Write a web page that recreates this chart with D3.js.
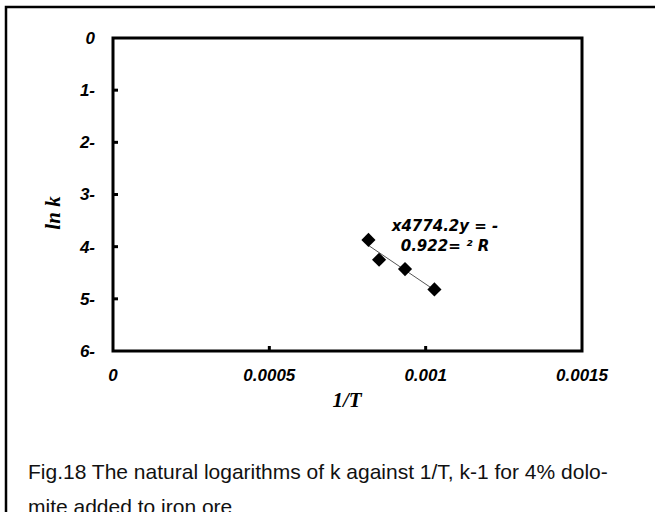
<!DOCTYPE html>
<html>
<head>
<meta charset="utf-8">
<script src="https://cdn.jsdelivr.net/npm/d3@7"></script>
<style>
  body { margin: 0; background: #fff; }
  svg { display: block; }
</style>
</head>
<body>
<svg id="chart" width="657" height="512"></svg>
<script>
// data
var invT = [0.000817, 0.000851, 0.000934, 0.001028];
var lnK = [-3.87, -4.25, -4.43, -4.82];
var xTicks = [0, 0.0005, 0.001, 0.0015];
var xTickLabels = ["0", "0.0005", "0.001", "0.0015"];
var yTicks = [0, -1, -2, -3, -4, -5, -6];
var yTickLabels = ["0", "1-", "2-", "3-", "4-", "5-", "6-"];
var equationLines = ["x4774.2y = -", "0.922= \u00B2 R"];
var captionLines = [
  "Fig.18 The natural logarithms of k against 1/T, k-1 for 4% dolo-",
  "mite added to iron ore"
];

var svg = d3.select("#chart"),
  plotL = 113, plotR = 582, plotT = 38, plotB = 351;

var x = d3.scaleLinear().domain([0, 0.0015]).range([plotL, plotR]);
var y = d3.scaleLinear().domain([0, -6]).range([plotT, plotB]);

// outer frame (top and left edges only)
svg.append("path")
  .attr("d", "M6,512V7H655")
  .attr("fill", "none")
  .attr("stroke", "#000")
  .attr("stroke-width", 2.5);

// plot box
svg.append("rect")
  .attr("x", plotL).attr("y", plotT)
  .attr("width", plotR - plotL).attr("height", plotB - plotT)
  .attr("fill", "none")
  .attr("stroke", "#000")
  .attr("stroke-width", 3);

var tickFont = "bold italic 17px 'Liberation Sans', Arial, sans-serif";

// y axis: inward ticks on the inner values
svg.selectAll(".ytick")
  .data(yTicks.filter(d => d !== 0 && d !== -6))
  .join("line")
  .attr("class", "ytick")
  .attr("x1", plotL).attr("x2", plotL + 5)
  .attr("y1", d => y(d)).attr("y2", d => y(d))
  .attr("stroke", "#000").attr("stroke-width", 3);

svg.selectAll(".ylab")
  .data(yTicks)
  .join("text")
  .attr("class", "ylab")
  .attr("x", 95)
  .attr("y", d => y(d))
  .attr("dy", "0.35em")
  .attr("text-anchor", "end")
  .style("font", tickFont)
  .text((d, i) => yTickLabels[i]);

// x axis: inward ticks
svg.selectAll(".xtick")
  .data(xTicks.filter(d => d !== 0 && d !== 0.0015))
  .join("line")
  .attr("class", "xtick")
  .attr("x1", d => x(d)).attr("x2", d => x(d))
  .attr("y1", plotB).attr("y2", plotB - 5)
  .attr("stroke", "#000").attr("stroke-width", 3);

svg.selectAll(".xlab")
  .data(xTicks)
  .join("text")
  .attr("class", "xlab")
  .attr("x", d => x(d))
  .attr("y", 381)
  .attr("text-anchor", "middle")
  .style("font", tickFont)
  .text((d, i) => xTickLabels[i]);

// axis titles
var titleFont = "bold italic 21px 'Liberation Serif', 'Times New Roman', serif";
svg.append("text")
  .attr("transform", "translate(60,213) rotate(-90)")
  .attr("text-anchor", "middle")
  .style("font", titleFont)
  .text("ln k");

svg.append("text")
  .attr("x", 347).attr("y", 407)
  .attr("text-anchor", "middle")
  .style("font", titleFont)
  .text("1/T");

// linear trend line over the data range
var mx = d3.mean(invT), my = d3.mean(lnK);
var sxy = d3.sum(invT, (v, i) => (v - mx) * (lnK[i] - my));
var sxx = d3.sum(invT, v => (v - mx) * (v - mx));
var slope = sxy / sxx, icpt = my - slope * mx;
var xExt = d3.extent(invT);
svg.append("line")
  .attr("x1", x(xExt[0])).attr("y1", y(icpt + slope * xExt[0]))
  .attr("x2", x(xExt[1])).attr("y2", y(icpt + slope * xExt[1]))
  .attr("stroke", "#555").attr("stroke-width", 1);

// diamond markers
var diamond = d3.symbol(d3.symbolSquare, 100);
svg.selectAll(".pt")
  .data(invT)
  .join("path")
  .attr("class", "pt")
  .attr("d", diamond)
  .attr("transform", (d, i) => `translate(${x(d)},${y(lnK[i])}) rotate(45)`)
  .attr("fill", "#000");

// regression label
svg.selectAll(".eq")
  .data(equationLines)
  .join("text")
  .attr("class", "eq")
  .attr("x", 445)
  .attr("y", (d, i) => 231 + i * 20)
  .attr("text-anchor", "middle")
  .style("font", "bold italic 15px 'DejaVu Sans', Verdana, sans-serif")
  .text(d => d);

// caption (second line runs off the bottom edge, as in the source)
svg.selectAll(".cap")
  .data(captionLines)
  .join("text")
  .attr("class", "cap")
  .attr("x", 28)
  .attr("y", (d, i) => 479 + i * 35)
  .style("font", "21px 'Liberation Sans', Arial, sans-serif")
  .attr("fill", "#111")
  .text(d => d);
</script>
</body>
</html>
